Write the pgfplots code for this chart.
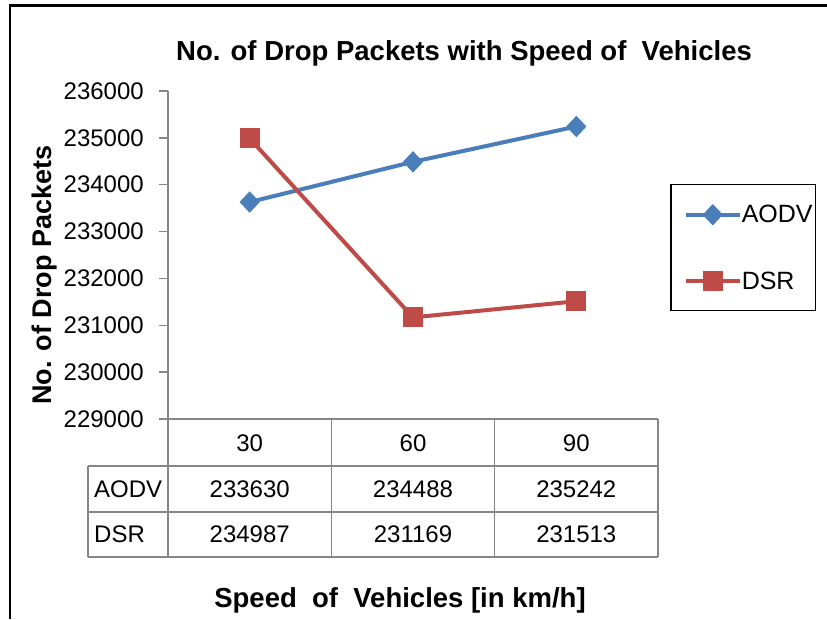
\documentclass[border=0pt]{standalone}
\usepackage{fontspec}
\setmainfont{Liberation Sans}
\usepackage{pgfplots}
\pgfplotsset{compat=1.18}
\definecolor{aodv}{HTML}{4A7EBB}
\definecolor{dsr}{HTML}{BE4B48}
\definecolor{axgray}{HTML}{868686}
\begin{document}
\begin{tikzpicture}[x=1pt,y=1pt]
\path[use as bounding box] (0,0) rectangle (827,619);
\draw[line width=2.5pt] (10,0) -- (10,613.5) -- (827,613.5);
\begin{axis}[
  at={(168pt,200pt)}, anchor=south west,
  scale only axis, width=490pt, height=328pt,
  xmin=0, xmax=3, ymin=229000, ymax=236000,
  axis y line*=left, axis x line=none,
  y axis line style={-, draw=axgray, line width=1.3pt},
  ytick={229000,230000,231000,232000,233000,234000,235000,236000},
  yticklabels={229000,230000,231000,232000,233000,234000,235000,236000},
  scaled y ticks=false,
  tick align=outside, major tick length=9pt,
  ytick style={draw=axgray, line width=1.3pt},
  yticklabel style={font=\fontsize{24}{24}\selectfont, inner xsep=15pt},
  clip=false,
  legend cell align=left,
  legend style={at={(1.0245,0.7165)}, anchor=north west, draw=black, line width=1.5pt,
    font=\fontsize{25}{25}\selectfont, inner xsep=3pt, inner ysep=20pt,
    nodes={inner sep=0pt}, row sep=47pt, /tikz/every even column/.append style={column sep=4pt}},
  legend image code/.code={\path (0pt,0pt); \draw[mark repeat=2,mark phase=2] plot coordinates {(10pt,0pt) (37pt,0pt) (64pt,0pt)};},
]
\addplot[aodv, line width=4pt, mark=diamond*, mark size=10pt, mark options={solid, xscale=1.25, line width=1pt}]
  coordinates {(0.5,233630) (1.5,234488) (2.5,235242)};
\addlegendentry{AODV}
\addplot[dsr, line width=4pt, mark=square*, mark size=9.5pt, mark options={solid, line width=1pt}]
  coordinates {(0.5,234987) (1.5,231169) (2.5,231513)};
\addlegendentry{DSR}
\end{axis}
% data table
\begin{scope}[draw=axgray, line width=1.5pt]
\draw (168,200) -- (658,200);
\draw (88,153) -- (658,153);
\draw (88,107) -- (658,107);
\draw (88,62) -- (658,62);
\draw (168,200) -- (168,62);
\draw (331.3,200) -- (331.3,62);
\draw (494.7,200) -- (494.7,62);
\draw (658,200) -- (658,62);
\draw (88,153) -- (88,62);
\end{scope}
\begin{scope}[every node/.style={font=\fontsize{24}{24}\selectfont}]
\node at (249.7,175.5) {30};
\node at (413,175.5) {60};
\node at (576.3,175.5) {90};
\node[anchor=west, inner xsep=0pt] at (94,130) {AODV};
\node[anchor=west, inner xsep=0pt] at (94,84.5) {DSR};
\node at (249.7,130) {233630};
\node at (413,130) {234488};
\node at (576.3,130) {235242};
\node at (249.7,84.5) {234987};
\node at (413,84.5) {231169};
\node at (576.3,84.5) {231513};
\end{scope}
\node[font=\bfseries\fontsize{27.5}{28}\selectfont] at (464,566) {No. of Drop Packets with Speed of\ \ Vehicles};
\node[font=\bfseries\fontsize{27.5}{28}\selectfont] at (400,19) {Speed\ \ of\ \ Vehicles [in km/h]};
\node[font=\bfseries\fontsize{27}{28}\selectfont, rotate=90] at (45,344) {No. of Drop Packets};
\end{tikzpicture}
\end{document}
